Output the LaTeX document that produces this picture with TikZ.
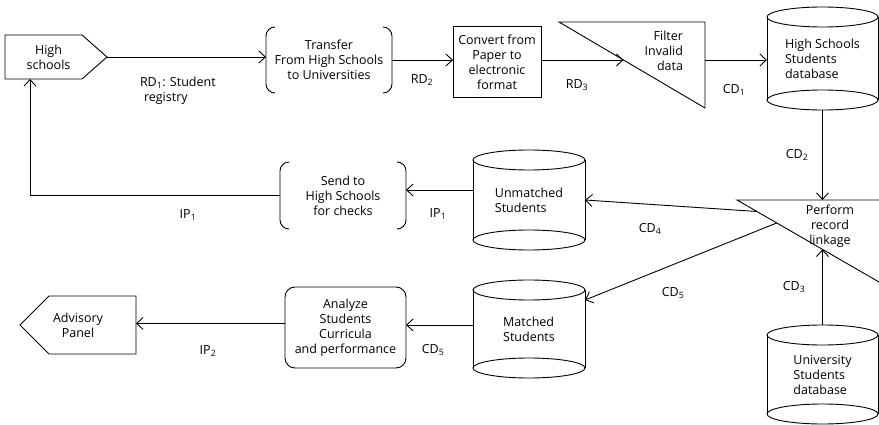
\documentclass[tikz,border=0pt]{standalone}
\usepackage{fontspec}
\setmainfont{Open Sans}
\usetikzlibrary{arrows.meta,calc}
\newcommand\dbcyl[2]{%
  \draw (#1.north west) -- (#1.south west) (#1.north east) -- (#1.south east);
  \draw (#1.north) ellipse [x radius=#2, y radius=10pt];
  \draw (#1.south) ellipse [x radius=#2, y radius=10pt];}
\newcommand\bracketbox[1]{%
  \draw[rounded corners=9pt] ($(#1.north west)+(9,0)$) -- (#1.north west) -- (#1.south west) -- ($(#1.south west)+(9,0)$);
  \draw[rounded corners=9pt] ($(#1.north east)+(-9,0)$) -- (#1.north east) -- (#1.south east) -- ($(#1.south east)+(-9,0)$);}
\begin{document}
\begin{tikzpicture}[x=1pt,y=-1pt,line width=0.9pt,
  every node/.style={font=\fontsize{12.5}{15}\selectfont, align=center, inner sep=0pt, outer sep=0pt},
  arr/.style={-{Straight Barb[length=6.5pt,width=12pt]}}]
\useasboundingbox (0,0) rectangle (879,425);

% High schools
\node[minimum width=87pt, minimum height=44pt] (hs) at (48.5,57) {High\\schools};
\draw (hs.north west) -- ($(hs.north west)+(77,0)$) -- ($(hs.west)+(102,0)$) -- ($(hs.south west)+(77,0)$) -- (hs.south west) -- cycle;
\coordinate (hstip) at ($(hs.west)+(102,0)$);

% Transfer
\node[minimum width=126pt, minimum height=66pt] (tr) at (329,60) {Transfer\\From High Schools\\to Universities};
\bracketbox{tr}
\draw[arr] (hstip) -- (hstip -| tr.west);

% Convert
\node[draw, minimum width=88pt, minimum height=71pt] (cv) at (497,62) {Convert from\\Paper to\\electronic\\format};
\draw[arr] (tr.east) -- (tr.east -| cv.west);

% Filter
\coordinate (fA) at (559,22);
\coordinate (fB) at (705,22);
\coordinate (fC) at (705,108);
\draw (fA) -- (fB) -- (fC) -- cycle;
\node[align=right, anchor=east] (flt) at (683,51) {Filter\\Invalid\\data};
\coordinate (fin) at ($(fA)!0.442!(fC)$);
\draw[arr] (cv.east |- fin) -- (fin);

% HS database
\node[minimum width=111pt, minimum height=83pt, align=left] (hsdb) at (822.5,58.5) {High Schools\\Students\\database};
\dbcyl{hsdb}{55.5pt}
\draw[arr] (fin -| fB) -- (fin -| hsdb.west);

% Perform record linkage
\coordinate (pA) at (737,200);
\coordinate (pR) at (879,200);
\coordinate (pC) at (879,282);
\draw (pR) -- (pA) -- (pC);
\node (prl) at (830,226) {Perform\\record\\linkage};
\draw[arr] ($(hsdb.south)+(0,10)$) -- (hsdb.south |- pA);

% Unmatched
\node[minimum width=112pt, minimum height=80pt, align=left] (um) at (529,200) {Unmatched\\Students};
\dbcyl{um}{56pt}

% Send to
\node[minimum width=126pt, minimum height=67pt] (st) at (343,195.5) {Send to\\High Schools\\for checks};
\bracketbox{st}
\draw[arr] ([yshift=10pt]um.west) -- ([yshift=10pt]um.west -| st.east);
\draw[arr] (st.west) -| ($(hs.south west)+(25,0)$);

% Matched
\node[minimum width=112pt, minimum height=78pt, align=left] (ma) at (529,329) {Matched\\Students};
\dbcyl{ma}{56pt}

% Analyze
\node[draw, rounded corners=10pt, minimum width=121pt, minimum height=81pt] (an) at (345.5,327.5) {Analyze\\Students\\Curricula\\and performance};
\draw[arr] ([yshift=4pt]ma.west) -- ([yshift=4pt]ma.west -| an.east);

% Advisory
\node[minimum width=116pt, minimum height=58pt] (adv) at (78,325) {Advisory\\Panel};
\draw (adv.west) -- ($(adv.north west)+(29,0)$) -- (adv.north east) -- (adv.south east) -- ($(adv.south west)+(29,0)$) -- cycle;
\draw[arr] ([yshift=4pt]an.west) -- ([yshift=4pt]an.west -| adv.east);

% University database
\node[minimum width=111pt, minimum height=79pt, align=left] (unidb) at (822.5,374.5) {University\\Students\\database};
\dbcyl{unidb}{55.5pt}

% links from linkage
\coordinate (p4) at ($(pA)!0.14!(pC)$);
\coordinate (p5) at ($(pA)!0.28!(pC)$);
\coordinate (p3) at ($(pA)!0.602!(pC)$);
\draw[arr] (p4) -- (um.east);
\draw[arr] (p5) -- ($(ma.north east)+(0,10)$);
\draw[arr] ($(unidb.north)+(0,-10)$) -- (unidb.north |- p3);

% labels
\node[anchor=west, align=left] (l1) at (140,91) {RD\textsubscript{1}: Student\\\hspace*{4pt}registry};
\node (l2) at (422,80) {RD\textsubscript{2}};
\node (l3) at (577,85) {RD\textsubscript{3}};
\node (l4) at (734,90) {CD\textsubscript{1}};
\node (l5) at (797,155) {CD\textsubscript{2}};
\node (l6) at (794,287) {CD\textsubscript{3}};
\node (l7) at (650,229) {CD\textsubscript{4}};
\node (l8) at (673,293) {CD\textsubscript{5}};
\node (l9) at (438,214) {IP\textsubscript{1}};
\node (l10) at (188,215) {IP\textsubscript{1}};
\node (l11) at (433,350) {CD\textsubscript{5}};
\node (l12) at (208,351) {IP\textsubscript{2}};
\end{tikzpicture}
\end{document}
